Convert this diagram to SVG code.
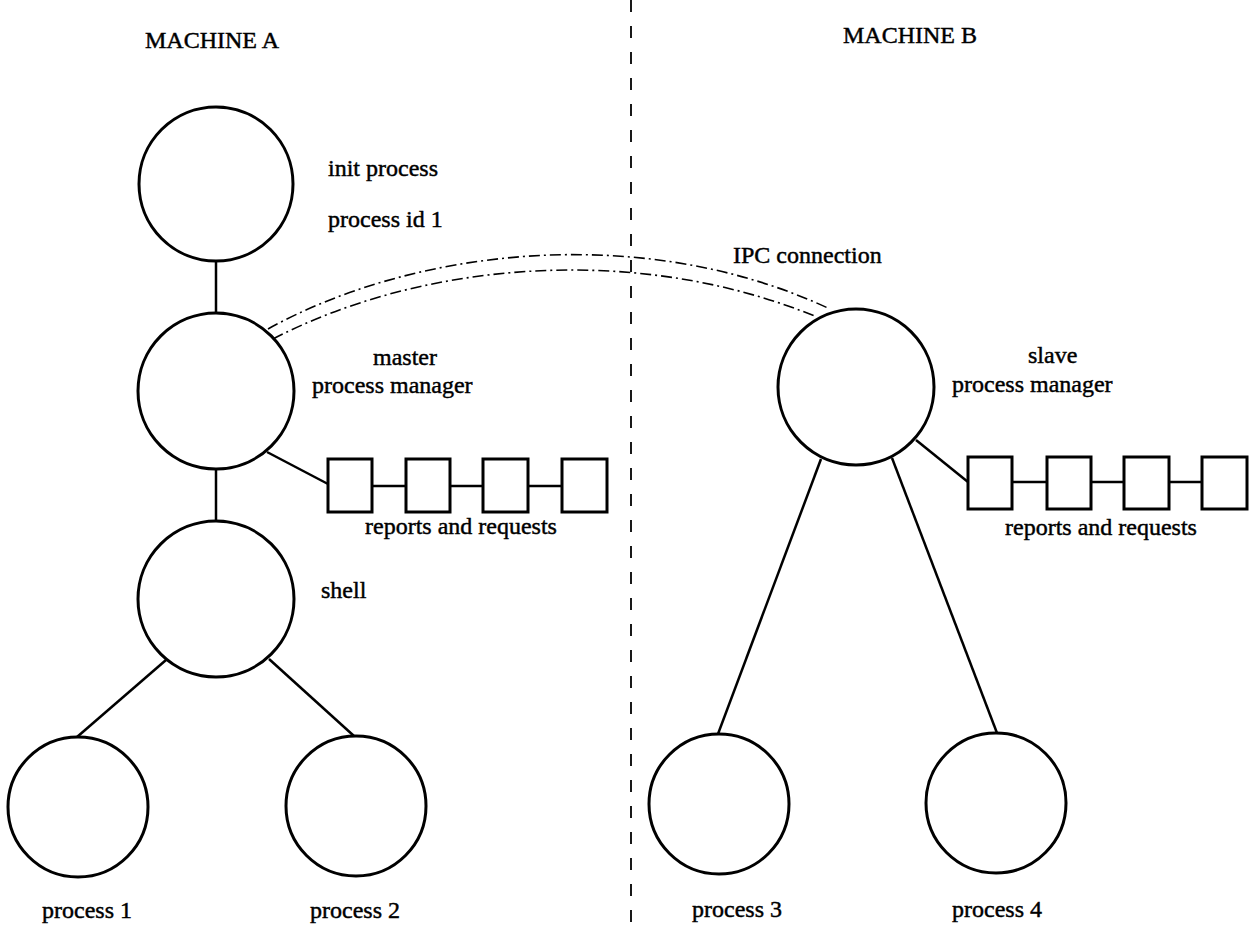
<svg xmlns="http://www.w3.org/2000/svg" width="1251" height="928" viewBox="0 0 1251 928">
<style>
text{font-family:"Liberation Serif","Times New Roman",serif;font-size:24px;fill:#000;stroke:#000;stroke-width:0.45}
.node{fill:none;stroke:#000;stroke-width:3}
.box{fill:#fff;stroke:#000;stroke-width:3}
.edge{fill:none;stroke:#000;stroke-width:2.5}
.ipc{fill:none;stroke:#000;stroke-width:1.6;stroke-dasharray:11 4 2 4}
.divider{fill:none;stroke:#000;stroke-width:1.8;stroke-dasharray:12 14}
</style>
<rect width="1251" height="928" fill="#fff"/>
<line class="divider" x1="631" y1="0" x2="631" y2="928"/>
<text x="145" y="48">MACHINE A</text>
<text x="843" y="43">MACHINE B</text>
<g id="connectors">
<line class="edge" x1="216" y1="261" x2="216" y2="313"/>
<line class="edge" x1="216" y1="469" x2="216" y2="521"/>
<line class="edge" x1="267" y1="452" x2="328" y2="484"/>
<line class="edge" x1="166" y1="660" x2="77" y2="737"/>
<line class="edge" x1="269" y1="659" x2="354" y2="736"/>
<line class="edge" x1="821" y1="459" x2="718" y2="734"/>
<line class="edge" x1="892" y1="458" x2="997" y2="733"/>
<line class="edge" x1="916" y1="440" x2="968" y2="482"/>
<line class="edge" x1="372" y1="486" x2="406" y2="486"/>
<line class="edge" x1="450" y1="486" x2="483" y2="486"/>
<line class="edge" x1="528" y1="486" x2="562" y2="486"/>
<line class="edge" x1="1012" y1="482" x2="1047" y2="482"/>
<line class="edge" x1="1091" y1="482" x2="1124" y2="482"/>
<line class="edge" x1="1169" y1="482" x2="1202" y2="482"/>
<path class="ipc" d="M268,329 C410,250 640,220 830,309"/>
<path class="ipc" d="M273,339 C415,265 630,240 817,317"/>
<text x="733" y="263">IPC connection</text>
</g>
<g id="init">
<circle class="node" cx="216" cy="184" r="77"/>
<text x="328" y="176">init process</text>
<text x="328" y="227">process id 1</text>
</g>
<g id="master">
<circle class="node" cx="216" cy="391" r="78"/>
<text x="373" y="365">master</text>
<text x="312" y="393">process manager</text>
</g>
<g id="queueA">
<rect class="box" x="328" y="459" width="44" height="53"/>
<rect class="box" x="406" y="459" width="44" height="53"/>
<rect class="box" x="483" y="459" width="45" height="53"/>
<rect class="box" x="562" y="459" width="45" height="53"/>
<text x="365" y="534">reports and requests</text>
</g>
<g id="shell">
<circle class="node" cx="216" cy="599" r="78"/>
<text x="321" y="598">shell</text>
</g>
<g id="process1">
<circle class="node" cx="78" cy="807" r="70"/>
<text x="42" y="918">process 1</text>
</g>
<g id="process2">
<circle class="node" cx="356" cy="806" r="70"/>
<text x="310" y="918">process 2</text>
</g>
<g id="slave">
<circle class="node" cx="856" cy="387" r="78"/>
<text x="1028" y="363">slave</text>
<text x="952" y="392">process manager</text>
</g>
<g id="queueB">
<rect class="box" x="968" y="457" width="44" height="52"/>
<rect class="box" x="1047" y="457" width="44" height="52"/>
<rect class="box" x="1124" y="457" width="45" height="52"/>
<rect class="box" x="1202" y="457" width="45" height="52"/>
<text x="1005" y="535">reports and requests</text>
</g>
<g id="process3">
<circle class="node" cx="719" cy="804" r="70"/>
<text x="692" y="917">process 3</text>
</g>
<g id="process4">
<circle class="node" cx="996" cy="803" r="70"/>
<text x="952" y="917">process 4</text>
</g>
</svg>
